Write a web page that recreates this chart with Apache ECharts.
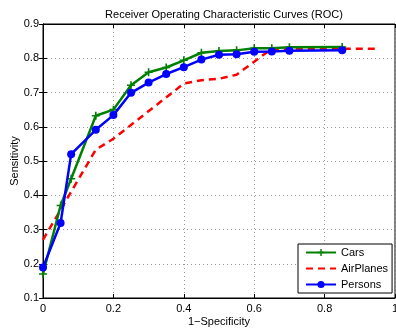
<!doctype html>
<html>
<head>
<meta charset="UTF-8">
<title>ROC</title>
<script src="https://cdn.jsdelivr.net/npm/echarts@6/dist/echarts.min.js"></script>
<style>
  html, body { margin: 0; padding: 0; background: #fff; }
  #chart { width: 396px; height: 329px; }
</style>
</head>
<body>
<div id="chart"></div>
<script>
// 1-Specificity values for each curve
var carsX = [0, 0.05, 0.08, 0.15, 0.2, 0.25, 0.3, 0.35, 0.4, 0.45, 0.5, 0.55, 0.6, 0.65, 0.7, 0.85];
var carsY = [0.17, 0.37, 0.448, 0.632, 0.65, 0.721, 0.759, 0.773, 0.794, 0.816, 0.821, 0.823, 0.829, 0.829, 0.832, 0.833];

var planesX = [0, 0.15, 0.2, 0.4, 0.45, 0.5, 0.55, 0.6, 0.65, 0.7, 0.75, 0.8, 0.85, 0.9, 0.95];
var planesY = [0.27, 0.533, 0.565, 0.726, 0.736, 0.74, 0.752, 0.79, 0.828, 0.828, 0.828, 0.828, 0.828, 0.828, 0.828];

var personsX = [0, 0.05, 0.08, 0.15, 0.2, 0.25, 0.3, 0.35, 0.4, 0.45, 0.5, 0.55, 0.6, 0.65, 0.7, 0.85];
var personsY = [0.189, 0.319, 0.52, 0.591, 0.634, 0.699, 0.729, 0.754, 0.774, 0.796, 0.81, 0.812, 0.819, 0.82, 0.822, 0.823];

var seriesNames = ['Cars', 'AirPlanes', 'Persons'];

function pairs(xs, ys) {
  var out = [];
  for (var i = 0; i < xs.length; i++) out.push([xs[i], ys[i]]);
  return out;
}

var font = 'Liberation Sans, Arial, sans-serif';
var plusPath = 'path://M4,0 L6,0 L6,4 L10,4 L10,6 L6,6 L6,10 L4,10 L4,6 L0,6 L0,4 L4,4 Z';

var chart = echarts.init(document.getElementById('chart'));
var gridLine = { show: true, lineStyle: { color: '#999', width: 1, type: [1, 3] } };
var option = {
  animation: false,
  backgroundColor: '#fff',
  title: {
    text: 'Receiver Operating Characteristic Curves (ROC)',
    left: 219, top: 4, textAlign: 'center',
    textStyle: { fontFamily: font, fontSize: 11, fontWeight: 'normal', color: '#000' }
  },
  grid: {
    left: 43, right: 1, top: 24, bottom: 31,
    outerBoundsMode: 'none', containLabel: false,
    show: true, borderColor: '#000', borderWidth: 1
  },
  legend: {
    data: [
      { name: seriesNames[0] },
      { name: seriesNames[1], itemStyle: { color: 'transparent', borderWidth: 0 } },
      { name: seriesNames[2] }
    ],
    orient: 'vertical',
    left: 298, top: 244,
    padding: [3, 4, 3, 7],
    itemWidth: 30, itemHeight: 9, itemGap: 5,
    backgroundColor: '#fff',
    borderColor: '#000', borderWidth: 1, borderRadius: 0,
    textStyle: { fontFamily: font, fontSize: 11, color: '#000' }
  },
  xAxis: [{
    type: 'value', min: 0, max: 1, interval: 0.2,
    name: '1\u2212Specificity', nameLocation: 'middle', nameGap: 18, nameMoveOverlap: false,
    nameTextStyle: { fontFamily: font, fontSize: 11, color: '#000' },
    axisLine: { lineStyle: { color: '#000', width: 1 } },
    axisTick: { inside: true, length: 4, lineStyle: { color: '#000' } },
    axisLabel: { fontFamily: font, fontSize: 11, color: '#000', margin: 5 },
    splitLine: gridLine
  }, {
    type: 'value', min: 0, max: 1, interval: 0.2, position: 'top',
    axisLine: { show: true, lineStyle: { color: '#000', width: 1 } },
    axisTick: { show: true, inside: true, length: 4, lineStyle: { color: '#000' } },
    axisLabel: { show: false }, splitLine: { show: false }
  }],
  yAxis: [{
    type: 'value', min: 0.1, max: 0.9, interval: 0.1,
    name: 'Sensitivity', nameLocation: 'middle', nameGap: 23, nameMoveOverlap: false,
    nameTextStyle: { fontFamily: font, fontSize: 11, color: '#000' },
    axisLine: { show: true, lineStyle: { color: '#000', width: 1 } },
    axisTick: { show: true, inside: true, length: 4, lineStyle: { color: '#000' } },
    axisLabel: { fontFamily: font, fontSize: 11, color: '#000', margin: 4 },
    splitLine: gridLine
  }, {
    type: 'value', min: 0.1, max: 0.9, interval: 0.1, position: 'right',
    axisLine: { show: true, lineStyle: { color: '#000', width: 1 } },
    axisTick: { show: true, inside: true, length: 4, lineStyle: { color: '#000' } },
    axisLabel: { show: false }, splitLine: { show: false }
  }],
  series: [{
    name: seriesNames[0], type: 'line', data: pairs(carsX, carsY),
    color: '#008000',
    symbol: plusPath, symbolSize: 8, showAllSymbol: true,
    lineStyle: { width: 2.5, color: '#008000' },
    itemStyle: { color: '#008000' }, z: 3
  }, {
    name: seriesNames[1], type: 'line', data: pairs(planesX, planesY),
    color: '#ff0000',
    symbol: 'none',
    lineStyle: { width: 2.5, color: '#ff0000', type: [7, 5] }, z: 2
  }, {
    name: seriesNames[2], type: 'line', data: pairs(personsX, personsY),
    color: '#0000ff',
    symbol: 'circle', symbolSize: 8, showAllSymbol: true,
    lineStyle: { width: 2.5, color: '#0000ff' },
    itemStyle: { color: '#0000ff' }, z: 4
  }]
};
chart.setOption(option);
</script>
</body>
</html>
